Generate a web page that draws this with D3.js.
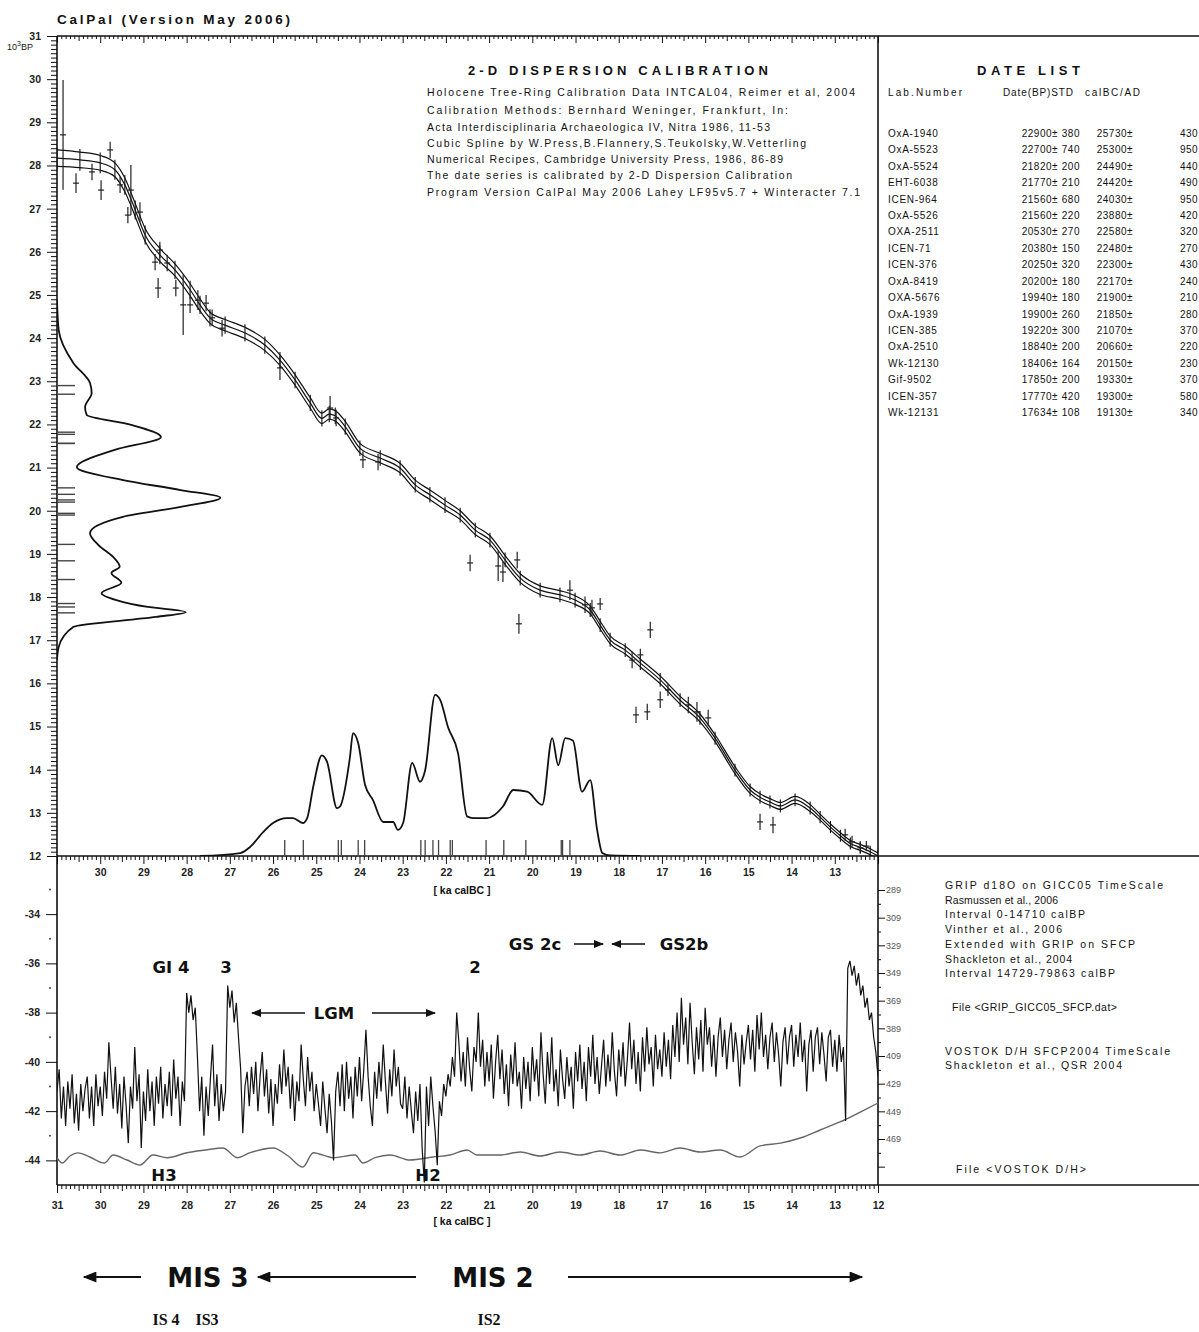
<!DOCTYPE html>
<html>
<head>
<meta charset="utf-8">
<script src="https://cdnjs.cloudflare.com/ajax/libs/d3/7.8.5/d3.min.js"></script>
<style>
body { margin: 0; background: #fff; }
svg { display: block; font-family: "Liberation Sans", Arial, sans-serif; }
.axis text { fill: #222; font-weight: bold; font-size: 10.5px; }
.axis line { stroke: #111; }
.small { font-size: 10.5px; fill: #111; }
.ann { font-family: "DejaVu Sans", sans-serif; font-weight: bold; fill: #111; }
</style>
</head>
<body>
<svg id="chart" width="1199" height="1332"></svg>
<script>
// ---------- data ----------
// calibration curve: [ka calBC, 10^3 BP, sigma]
let calCurve = [
  [31.00,28.17,0.19],[30.47,28.13,0.18],[30.00,28.06,0.17],[29.66,27.90,0.16],[29.43,27.55,0.16],
  [29.19,26.97,0.15],[28.96,26.39,0.15],[28.62,25.93,0.15],[28.27,25.58,0.14],[27.92,25.12,0.14],
  [27.69,24.77,0.14],[27.46,24.47,0.13],[27.11,24.30,0.13],[26.65,24.12,0.13],[26.19,23.84,0.13],
  [25.84,23.49,0.12],[25.49,23.03,0.12],[25.14,22.50,0.12],[24.87,22.14,0.12],[24.70,22.24,0.12],
  [24.56,22.20,0.12],[24.33,21.95,0.12],[23.99,21.45,0.11],[23.52,21.22,0.11],[23.06,20.99,0.11],
  [22.71,20.60,0.11],[22.37,20.37,0.11],[22.02,20.13,0.11],[21.67,19.90,0.10],[21.32,19.55,0.10],
  [20.98,19.32,0.10],[20.63,18.86,0.10],[20.28,18.44,0.10],[19.82,18.16,0.10],[19.36,18.05,0.10],
  [19.01,17.93,0.10],[18.66,17.70,0.09],[18.43,17.35,0.09],[18.20,17.01,0.09],[17.85,16.77,0.09],
  [17.50,16.47,0.09],[17.04,16.08,0.09],[16.58,15.61,0.09],[16.12,15.20,0.09],[15.77,14.73,0.08],
  [15.31,13.99,0.08],[14.96,13.53,0.08],[14.73,13.36,0.08],[14.50,13.25,0.08],[14.26,13.16,0.08],
  [13.92,13.30,0.08],[13.57,13.11,0.08],[13.34,12.90,0.07],[13.10,12.67,0.07],[12.87,12.47,0.07],
  [12.64,12.29,0.07],[12.41,12.20,0.07],[12.18,12.10,0.07],[12.00,12.00,0.07]
]

// reference data points: [ka calBC, 10^3 BP, error]
let refPoints = [
  [30.86,28.71,1.27],[30.56,27.59,0.23],[30.19,27.85,0.19],[29.98,27.43,0.23],[29.77,28.36,0.19],
  [29.54,27.55,0.19],[29.29,27.43,0.58],[29.36,26.85,0.19],[29.08,26.92,0.23],[28.73,25.76,0.19],
  [28.62,26.04,0.19],[28.66,25.16,0.23],[28.45,25.74,0.19],[28.25,25.16,0.19],[28.08,24.77,0.70],
  [27.92,24.77,0.19],[27.74,24.88,0.23],[27.55,24.81,0.19],[27.41,24.47,0.19],[27.18,24.23,0.19],
  [25.84,23.31,0.28],[24.68,22.38,0.28],[24.54,22.15,0.19],[23.92,21.18,0.19],[23.57,21.13,0.19],
  [21.44,18.79,0.19],[20.79,18.72,0.35],[20.68,18.58,0.23],[20.35,18.86,0.19],[20.31,17.38,0.23],
  [19.13,18.16,0.23],[18.78,17.82,0.19],[18.62,17.75,0.19],[18.43,17.84,0.14],[17.69,16.54,0.19],
  [17.50,16.66,0.14],[17.27,17.24,0.19],[17.60,15.27,0.19],[17.34,15.34,0.19],[17.04,15.62,0.19],
  [16.86,15.85,0.14],[16.39,15.50,0.19],[16.19,15.34,0.23],[15.93,15.20,0.19],[14.73,12.79,0.19],
  [14.43,12.72,0.19],[12.76,12.49,0.14],[12.60,12.33,0.14],[12.41,12.19,0.14],[12.27,12.23,0.12]
]

// summed 14C probability (left): [10^3 BP, density]
let bpDensity = [
  [24.88,0],[24.19,0.01],[23.42,0.10],[22.96,0.20],[22.73,0.21],[22.40,0.17],[22.22,0.18],
  [21.99,0.45],[21.71,0.63],[21.41,0.35],[21.01,0.12],[20.71,0.40],[20.48,0.75],[20.30,0.99],
  [20.09,0.75],[19.86,0.40],[19.48,0.20],[19.21,0.25],[18.93,0.34],[18.70,0.38],[18.56,0.33],
  [18.33,0.39],[18.09,0.27],[17.93,0.36],[17.77,0.55],[17.65,0.78],[17.54,0.60],[17.31,0.10],
  [16.84,0.01],[16.54,0]
]

// summed calendric probability (bottom): [ka calBC, density]
let calDensity = [
  [27.69,0],[26.76,0.018],[26.53,0.055],[26.23,0.145],[26.00,0.20],[25.68,0.23],[25.54,0.23],
  [25.31,0.20],[25.21,0.23],[25.07,0.42],[24.87,0.61],[24.75,0.57],[24.52,0.29],[24.45,0.30],
  [24.22,0.60],[24.15,0.745],[24.03,0.685],[23.87,0.43],[23.69,0.34],[23.45,0.206],[23.22,0.206],
  [23.11,0.158],[22.99,0.20],[22.78,0.564],[22.60,0.45],[22.48,0.52],[22.25,0.976],[22.13,0.945],
  [21.95,0.78],[21.72,0.625],[21.51,0.24],[21.37,0.23],[21.05,0.23],[20.68,0.30],[20.44,0.40],
  [20.12,0.39],[19.77,0.31],[19.54,0.715],[19.40,0.55],[19.24,0.715],[19.06,0.70],[18.85,0.39],
  [18.66,0.46],[18.50,0.158],[18.38,0.018],[18.20,0.003],[17.50,0]
]

// date list
let labNumbers = ["OxA-1940","OxA-5523","OxA-5524","EHT-6038","ICEN-964","OxA-5526","OXA-2511","ICEN-71","ICEN-376",
  "OxA-8419","OXA-5676","OxA-1939","ICEN-385","OxA-2510","Wk-12130","Gif-9502","ICEN-357","Wk-12131"]
let bpDates = [22900,22700,21820,21770,21560,21560,20530,20380,20250,20200,19940,19900,19220,18840,18406,17850,17770,17634]
let bpStd = [380,740,200,210,680,220,270,150,320,180,180,260,300,200,164,200,420,108]
let calDates = [25730,25300,24490,24420,24030,23880,22580,22480,22300,22170,21900,21850,21070,20660,20150,19330,19300,19130]
let calStd = [430,950,440,490,950,420,320,270,430,240,210,280,370,220,230,370,580,340]

// GRIP d18O: [ka calBC, permil]
let gripD18O = [
  [31.00,-41.2],[30.95,-40.3],[30.90,-42.3],[30.85,-41.0],[30.80,-42.6],[30.75,-40.8],[30.70,-41.9],[30.65,-40.5],[30.60,-42.5],[30.55,-41.3],
  [30.50,-42.8],[30.45,-40.9],[30.40,-42.0],[30.35,-41.1],[30.30,-40.6],[30.25,-42.3],[30.20,-41.0],[30.15,-42.6],[30.10,-40.5],[30.05,-41.8],
  [30.00,-41.0],[29.95,-42.2],[29.90,-40.4],[29.85,-41.5],[29.80,-39.2],[29.75,-40.6],[29.70,-41.9],[29.65,-40.2],[29.60,-42.1],[29.55,-40.9],
  [29.50,-42.7],[29.45,-40.6],[29.40,-41.8],[29.35,-43.3],[29.30,-41.0],[29.25,-41.9],[29.20,-39.4],[29.15,-41.6],[29.10,-40.5],[29.05,-43.5],
  [29.00,-41.2],[28.95,-42.4],[28.90,-40.3],[28.85,-42.0],[28.80,-40.8],[28.75,-42.6],[28.70,-40.6],[28.65,-41.7],[28.60,-40.2],[28.55,-42.3],
  [28.50,-40.9],[28.45,-41.8],[28.40,-40.4],[28.35,-42.2],[28.30,-39.9],[28.25,-41.5],[28.20,-40.6],[28.15,-42.6],[28.10,-40.8],[28.05,-41.6],
  [28.00,-37.2],[27.95,-38.0],[27.90,-37.3],[27.85,-38.3],[27.80,-37.8],[27.75,-39.8],[27.70,-42.0],[27.65,-40.6],[27.60,-43.0],[27.55,-41.0],
  [27.50,-42.2],[27.45,-40.7],[27.40,-39.3],[27.35,-41.8],[27.30,-40.5],[27.25,-42.4],[27.20,-40.9],[27.15,-42.0],[27.10,-41.2],[27.05,-36.9],
  [27.00,-37.8],[26.95,-37.1],[26.90,-38.4],[26.85,-37.6],[26.80,-39.0],[26.75,-40.3],[26.70,-42.9],[26.65,-41.0],[26.60,-40.4],[26.55,-41.8],
  [26.50,-40.2],[26.45,-41.3],[26.40,-40.0],[26.35,-42.0],[26.30,-40.6],[26.25,-39.6],[26.20,-41.4],[26.15,-40.3],[26.10,-42.1],[26.05,-40.7],
  [26.00,-42.6],[25.95,-40.9],[25.90,-41.7],[25.85,-40.1],[25.80,-41.3],[25.75,-39.5],[25.70,-41.0],[25.65,-40.2],[25.60,-41.9],[25.55,-40.5],
  [25.50,-42.4],[25.45,-40.8],[25.40,-41.6],[25.35,-39.3],[25.30,-40.7],[25.25,-41.8],[25.20,-39.8],[25.15,-41.2],[25.10,-40.4],[25.05,-42.0],
  [25.00,-40.9],[24.95,-41.7],[24.90,-42.6],[24.85,-40.8],[24.80,-41.9],[24.75,-42.9],[24.70,-41.3],[24.65,-42.4],[24.60,-44.0],[24.55,-41.2],
  [24.50,-40.4],[24.45,-41.8],[24.40,-40.1],[24.35,-42.0],[24.30,-40.0],[24.25,-41.5],[24.20,-40.6],[24.15,-42.3],[24.10,-40.2],[24.05,-41.4],
  [24.00,-39.8],[23.95,-41.6],[23.90,-40.3],[23.85,-38.7],[23.80,-40.6],[23.75,-41.8],[23.70,-42.6],[23.65,-40.4],[23.60,-41.5],[23.55,-40.0],
  [23.50,-41.2],[23.45,-39.3],[23.40,-40.8],[23.35,-42.1],[23.30,-40.3],[23.25,-41.4],[23.20,-39.5],[23.15,-41.0],[23.10,-40.2],[23.05,-41.7],
  [23.00,-41.9],[22.95,-40.6],[22.90,-42.3],[22.85,-41.0],[22.80,-42.0],[22.75,-42.9],[22.70,-41.2],[22.65,-42.4],[22.60,-40.9],[22.55,-43.5],
  [22.50,-44.9],[22.45,-41.0],[22.40,-42.6],[22.35,-40.6],[22.30,-41.8],[22.25,-42.8],[22.20,-44.2],[22.15,-41.6],[22.10,-42.2],[22.05,-40.9],
  [22.00,-41.4],[21.95,-40.5],[21.90,-41.0],[21.85,-39.8],[21.80,-40.6],[21.75,-38.0],[21.70,-39.2],[21.65,-40.8],[21.60,-39.6],[21.55,-41.0],
  [21.50,-39.0],[21.45,-40.3],[21.40,-41.2],[21.35,-39.4],[21.30,-40.0],[21.25,-38.0],[21.20,-40.2],[21.15,-39.1],[21.10,-41.0],[21.05,-39.6],
  [21.00,-40.8],[20.95,-39.3],[20.90,-41.5],[20.85,-40.0],[20.80,-38.9],[20.75,-40.7],[20.70,-39.5],[20.65,-41.3],[20.60,-40.1],[20.55,-41.8],
  [20.50,-39.7],[20.45,-40.9],[20.40,-39.2],[20.35,-41.0],[20.30,-40.4],[20.25,-41.9],[20.20,-39.8],[20.15,-41.1],[20.10,-40.0],[20.05,-41.6],
  [20.00,-39.4],[19.95,-40.8],[19.90,-39.9],[19.85,-41.4],[19.80,-38.8],[19.75,-40.5],[19.70,-41.7],[19.65,-39.6],[19.60,-40.9],[19.55,-39.0],
  [19.50,-41.2],[19.45,-40.3],[19.40,-41.8],[19.35,-39.5],[19.30,-40.7],[19.25,-41.5],[19.20,-39.8],[19.15,-41.0],[19.10,-40.2],[19.05,-41.9],
  [19.00,-39.6],[18.95,-40.8],[18.90,-39.3],[18.85,-41.1],[18.80,-40.0],[18.75,-41.6],[18.70,-39.4],[18.65,-40.6],[18.60,-38.9],[18.55,-40.9],
  [18.50,-39.8],[18.45,-41.3],[18.40,-40.2],[18.35,-39.1],[18.30,-41.0],[18.25,-39.7],[18.20,-40.8],[18.15,-38.8],[18.10,-40.4],[18.05,-41.4],
  [18.00,-39.5],[17.95,-40.6],[17.90,-39.2],[17.85,-41.0],[17.80,-39.9],[17.75,-38.4],[17.70,-40.3],[17.65,-39.1],[17.60,-40.9],[17.55,-39.6],
  [17.50,-41.2],[17.45,-39.0],[17.40,-40.4],[17.35,-38.6],[17.30,-40.1],[17.25,-39.4],[17.20,-41.0],[17.15,-38.9],[17.10,-40.3],[17.05,-39.5],
  [17.00,-40.6],[16.95,-38.8],[16.90,-40.2],[16.85,-39.1],[16.80,-40.7],[16.75,-38.5],[16.70,-39.8],[16.65,-38.0],[16.60,-40.0],[16.55,-37.4],
  [16.50,-39.3],[16.45,-38.2],[16.40,-40.1],[16.35,-37.6],[16.30,-39.2],[16.25,-40.5],[16.20,-38.6],[16.15,-39.9],[16.10,-38.3],[16.05,-40.4],
  [16.00,-37.8],[15.95,-39.3],[15.90,-38.6],[15.85,-40.2],[15.80,-38.9],[15.75,-40.6],[15.70,-39.0],[15.65,-38.2],[15.60,-39.8],[15.55,-38.7],
  [15.50,-40.3],[15.45,-39.1],[15.40,-38.4],[15.35,-40.0],[15.30,-38.8],[15.25,-39.6],[15.20,-41.0],[15.15,-38.9],[15.10,-40.1],[15.05,-39.2],
  [15.00,-38.5],[14.95,-39.9],[14.90,-38.7],[14.85,-40.4],[14.80,-38.1],[14.75,-39.5],[14.70,-38.0],[14.65,-39.8],[14.60,-38.9],[14.55,-40.3],
  [14.50,-39.0],[14.45,-38.4],[14.40,-40.0],[14.35,-38.8],[14.30,-39.7],[14.25,-41.0],[14.20,-39.2],[14.15,-38.6],[14.10,-40.1],[14.05,-39.0],
  [14.00,-38.5],[13.95,-40.2],[13.90,-38.9],[13.85,-39.8],[13.80,-38.4],[13.75,-40.0],[13.70,-39.1],[13.65,-41.2],[13.60,-39.3],[13.55,-38.7],
  [13.50,-40.4],[13.45,-39.0],[13.40,-38.6],[13.35,-40.1],[13.30,-38.8],[13.25,-39.7],[13.20,-40.8],[13.15,-39.0],[13.10,-38.7],[13.05,-40.2],
  [13.00,-39.1],[12.95,-40.4],[12.90,-38.9],[12.85,-40.0],[12.80,-39.4],[12.75,-42.4],[12.70,-36.2],[12.65,-35.9],[12.60,-36.5],[12.55,-36.1],
  [12.50,-36.9],[12.45,-36.4],[12.40,-37.3],[12.35,-36.9],[12.30,-37.8],[12.25,-37.4],[12.20,-38.3],[12.15,-38.0],[12.10,-39.0],[12.05,-39.6],
  [12.00,-40.6]
]

// VOSTOK D/H on right-hand scale: [ka calBC, value]
let vostokDH = [
  [31.00,482.5],[30.88,486.4],[30.70,481.3],[30.51,479.0],[30.24,482.0],[29.91,486.4],[29.70,480.6],[29.38,484.2],
  [29.08,487.8],[28.78,480.6],[28.45,482.5],[27.99,478.9],[27.57,477.0],[27.16,475.5],[26.83,482.5],[26.53,478.9],
  [26.00,475.5],[25.65,481.3],[25.31,489.3],[25.07,478.9],[24.61,482.5],[24.10,480.6],[23.92,486.4],[23.64,482.5],
  [23.29,480.6],[22.83,484.2],[22.30,482.0],[21.90,480.6],[21.51,477.0],[21.28,480.6],[20.75,480.6],[20.28,478.4],
  [19.82,481.3],[19.36,478.4],[18.89,480.6],[18.43,477.7],[17.97,480.6],[17.50,477.0],[17.04,479.0],[16.58,475.5],
  [16.12,478.4],[15.65,477.0],[15.19,482.0],[14.73,474.0],[14.26,472.0],[13.80,468.3],[13.34,462.5],[12.88,456.7],
  [12.41,449.5],[12.00,443.0]
]

let headerLines = [
  ["Holocene Tree-Ring Calibration Data INTCAL04, Reimer et al, 2004", 428],
  ["Calibration Methods:  Bernhard Weninger, Frankfurt, In:", 361],
  ["Acta Interdisciplinaria Archaeologica IV, Nitra 1986, 11-53", 343],
  ["Cubic Spline by W.Press,B.Flannery,S.Teukolsky,W.Vetterling", 379],
  ["Numerical Recipes, Cambridge University Press, 1986, 86-89", 356],
  ["The date series is calibrated by 2-D Dispersion Calibration", 365],
  ["Program Version CalPal May 2006 Lahey LF95v5.7 + Winteracter 7.1", 433]
]
let sourceLines = [
  ["GRIP d18O on GICC05 TimeScale", 945, 889, 218],
  ["Rasmussen et al., 2006", 945, 904, 113],
  ["Interval 0-14710 calBP", 945, 918, 140],
  ["Vinther et al., 2006", 945, 933, 117],
  ["Extended with GRIP on SFCP", 945, 948, 190],
  ["Shackleton et al., 2004", 945, 963, 127],
  ["Interval 14729-79863 calBP", 945, 977, 170],
  ["File <GRIP_GICC05_SFCP.dat>", 952, 1011, 165],
  ["VOSTOK D/H SFCP2004 TimeScale", 945, 1055, 225],
  ["Shackleton et al., QSR 2004", 945, 1069, 177],
  ["File <VOSTOK D/H>", 956, 1173, 130]
]

// ---------- scales ----------
let svg = d3.select('#chart')
let x = d3.scaleLinear().domain([31, 12]).range([57, 878])
let yUp = d3.scaleLinear().domain([12, 31]).range([856, 36])
let yLo = d3.scaleLinear().domain([-45, -31.64]).range([1185, 856])
let yVos = d3.scaleLinear().domain([289, 469]).range([890, 1139])
let dX = d3.scaleLinear().domain([0, 1]).range([57, 222])
let dY = d3.scaleLinear().domain([0, 1]).range([856, 691])

svg.append('rect').attr('width', 1199).attr('height', 1332).attr('fill', '#fff')

let defs = svg.append('defs')
defs.append('clipPath').attr('id', 'clipUp').append('rect')
    .attr('x', 57).attr('y', 36).attr('width', 821).attr('height', 820)
defs.append('clipPath').attr('id', 'clipLo').append('rect')
    .attr('x', 57).attr('y', 856).attr('width', 821).attr('height', 329)
function marker(id, w, h) {
    defs.append('marker').attr('id', id)
        .attr('viewBox', '0 0 10 8').attr('refX', 9).attr('refY', 4)
        .attr('markerUnits', 'userSpaceOnUse')
        .attr('markerWidth', w).attr('markerHeight', h).attr('orient', 'auto')
        .append('path').attr('d', 'M0,0 L10,4 L0,8 Z').attr('fill', '#111')
}
marker('arrBig', 15, 11)
marker('arrSmall', 11, 8)

// ---------- axes / rulers ----------
let tenths = d3.range(120, 311).map(v => v / 10)
let minorT = tenths.filter(v => Math.round(v * 10) % 5 !== 0)
let halfT = tenths.filter(v => Math.round(v * 10) % 10 === 5)
let intT = d3.range(12, 32)

function ruler(gen, scale, vals, size, tr) {
    svg.append('g').attr('class', 'axis').attr('transform', tr)
        .call(gen(scale).tickValues(vals).tickSize(size).tickSizeOuter(0).tickFormat(''))
        .call(g => g.select('.domain').remove())
}
// top of upper plot (inside)
ruler(d3.axisBottom, x, minorT, 3, 'translate(0,36)')
ruler(d3.axisBottom, x, halfT, 5, 'translate(0,36)')
ruler(d3.axisBottom, x, intT, 7, 'translate(0,36)')
// left of upper plot
ruler(d3.axisLeft, yUp, tenths.filter(v => Math.round(v * 10) % 10 !== 0), 6, 'translate(57,0)')
svg.append('g').attr('class', 'axis').attr('transform', 'translate(57,0)')
    .call(d3.axisLeft(yUp).tickValues(intT).tickSize(10).tickPadding(6).tickFormat(d => d))
    .call(g => g.select('.domain').remove())
// bottom of upper plot
ruler(d3.axisBottom, x, minorT, 4, 'translate(0,856)')
ruler(d3.axisBottom, x, halfT, 6, 'translate(0,856)')
svg.append('g').attr('class', 'axis').attr('transform', 'translate(0,856)')
    .call(d3.axisBottom(x).tickValues(intT).tickSize(8).tickPadding(5)
        .tickFormat(d => (d > 12 && d < 31) ? d : ''))
    .call(g => g.select('.domain').remove())
// bottom of lower plot
ruler(d3.axisBottom, x, minorT, 4, 'translate(0,1185)')
ruler(d3.axisBottom, x, halfT, 6, 'translate(0,1185)')
svg.append('g').attr('class', 'axis').attr('transform', 'translate(0,1185)')
    .call(d3.axisBottom(x).tickValues(intT).tickSize(8).tickPadding(9).tickFormat(d => d))
    .call(g => g.select('.domain').remove())
// left of lower plot
svg.append('g').attr('class', 'axis').attr('transform', 'translate(57,0)')
    .call(d3.axisLeft(yLo).tickValues([-44, -42, -40, -38, -36, -34]).tickSize(11).tickPadding(6).tickFormat(d => String(d)))
    .call(g => g.select('.domain').remove())
svg.append('g').selectAll('circle').data([-43, -41, -39, -37, -35, -33]).join('circle')
    .attr('cx', 50).attr('cy', d => yLo(d)).attr('r', 0.9).attr('fill', '#333')
// right (VOSTOK) axis of lower plot
ruler(d3.axisRight, yVos, d3.range(299, 489, 20), 3, 'translate(878,0)')
svg.append('g').attr('class', 'axis').attr('transform', 'translate(878,0)')
    .call(d3.axisRight(yVos).tickValues(d3.range(289, 490, 20)).tickSize(7).tickPadding(1)
        .tickFormat(d => d <= 469 ? d : ''))
    .call(g => g.select('.domain').remove())
    .call(g => g.selectAll('text').style('font-size', '9px').style('font-weight', 'normal').style('fill', '#555'))

// frames
let frame = [[57, 36, 1199, 36], [57, 856, 1199, 856], [57, 1185, 1199, 1185],
             [57, 36, 57, 1185], [878, 36, 878, 1185]]
svg.append('g').selectAll('line').data(frame).join('line')
    .attr('x1', d => d[0]).attr('y1', d => d[1]).attr('x2', d => d[2]).attr('y2', d => d[3])
    .attr('stroke', '#111').attr('stroke-width', 1.6)

// ---------- upper plot ----------
let up = svg.append('g').attr('clip-path', 'url(#clipUp)')
let calLine = d3.line().x(d => x(d[0])).y(d => yUp(d[1])).curve(d3.curveMonotoneX)
;[0, 1, -1].forEach(s => {
    up.append('path').datum(calCurve.map(d => [d[0], d[1] + s * d[2]]))
        .attr('d', calLine).attr('fill', 'none').attr('stroke', '#111').attr('stroke-width', 1.2)
})
up.append('g').selectAll('line').data(calCurve).join('line')
    .attr('x1', d => x(d[0])).attr('x2', d => x(d[0]))
    .attr('y1', d => yUp(d[1] - d[2] - 0.07)).attr('y2', d => yUp(d[1] + d[2] + 0.07))
    .attr('stroke', '#111').attr('stroke-width', 1.1)

let pts = up.append('g').attr('stroke', '#222').attr('stroke-width', 1.2)
pts.selectAll('.ev').data(refPoints).join('line').attr('class', 'ev')
    .attr('x1', d => x(d[0])).attr('x2', d => x(d[0]))
    .attr('y1', d => yUp(d[1] - d[2])).attr('y2', d => yUp(d[1] + d[2]))
pts.selectAll('.eh').data(refPoints).join('line').attr('class', 'eh')
    .attr('x1', d => x(d[0]) - 3).attr('x2', d => x(d[0]) + 3)
    .attr('y1', d => yUp(d[1])).attr('y2', d => yUp(d[1]))

up.append('path').datum(bpDensity)
    .attr('d', d3.line().x(d => dX(d[1])).y(d => yUp(d[0])).curve(d3.curveMonotoneY))
    .attr('fill', 'none').attr('stroke', '#111').attr('stroke-width', 1.8)
up.append('g').selectAll('line').data(bpDates).join('line')
    .attr('x1', 57).attr('x2', 75).attr('y1', d => yUp(d / 1000)).attr('y2', d => yUp(d / 1000))
    .attr('stroke', '#444').attr('stroke-width', 1.4)

up.append('path').datum(calDensity)
    .attr('d', d3.line().x(d => x(d[0])).y(d => dY(d[1])).curve(d3.curveMonotoneX))
    .attr('fill', 'none').attr('stroke', '#111').attr('stroke-width', 1.8)
up.append('g').selectAll('line').data(calDates).join('line')
    .attr('x1', d => x(d / 1000)).attr('x2', d => x(d / 1000)).attr('y1', 856).attr('y2', 840)
    .attr('stroke', '#444').attr('stroke-width', 1.3)

// ---------- lower plot ----------
let lo = svg.append('g').attr('clip-path', 'url(#clipLo)')
lo.append('path').datum(vostokDH)
    .attr('d', d3.line().x(d => x(d[0])).y(d => yVos(d[1])).curve(d3.curveMonotoneX))
    .attr('fill', 'none').attr('stroke', '#666').attr('stroke-width', 1.4)
lo.append('path').datum(gripD18O)
    .attr('d', d3.line().x(d => x(d[0])).y(d => yLo(d[1])))
    .attr('fill', 'none').attr('stroke', '#111').attr('stroke-width', 1.2)

// ---------- texts ----------
svg.append('text').attr('x', 57).attr('y', 24).attr('textLength', 233).attr('lengthAdjust', 'spacing')
    .style('font-size', '13.5px').style('font-weight', 'bold').attr('fill', '#111')
    .text('CalPal (Version May 2006)')
let bp = svg.append('text').attr('x', 7).attr('y', 50).style('font-size', '9px').attr('fill', '#222')
bp.append('tspan').text('10')
bp.append('tspan').attr('dy', -4).style('font-size', '7px').text('3')
bp.append('tspan').attr('dy', 4).text('BP')

svg.append('text').attr('x', 468).attr('y', 75).attr('textLength', 300).attr('lengthAdjust', 'spacing')
    .style('font-size', '13px').style('font-weight', 'bold').attr('fill', '#111')
    .text('2-D DISPERSION CALIBRATION')
svg.append('g').selectAll('text').data(headerLines).join('text').attr('class', 'small')
    .attr('x', 427).attr('y', (d, i) => [96, 114, 131, 147, 163, 179, 196][i])
    .attr('textLength', d => d[1]).attr('lengthAdjust', 'spacing')
    .style('font-size', '10.5px').text(d => d[0])

svg.append('text').attr('x', 977).attr('y', 75).attr('textLength', 103).attr('lengthAdjust', 'spacing')
    .style('font-size', '13px').style('font-weight', 'bold').attr('fill', '#111').text('DATE LIST')
let hdr = [['Lab.Number', 888, 74], ['Date(BP)STD', 1003, 70], ['calBC/AD', 1085, 55]]
svg.append('g').selectAll('text').data(hdr).join('text').attr('class', 'small')
    .attr('x', d => d[1]).attr('y', 96).attr('textLength', d => d[2]).attr('lengthAdjust', 'spacing')
    .style('font-size', '10px').text(d => d[0])

let rowY = i => 137 + i * 16.41
let rows = svg.append('g').attr('class', 'small').style('font-size', '10px')
rows.selectAll('.lab').data(labNumbers).join('text').attr('class', 'lab')
    .attr('x', 888).attr('y', (d, i) => rowY(i)).style('letter-spacing', '0.7px').text(d => d)
rows.selectAll('.bp').data(bpDates).join('text').attr('class', 'bp')
    .attr('x', 1058).attr('y', (d, i) => rowY(i)).attr('text-anchor', 'end').style('letter-spacing', '0.5px').text(d => d + '±')
rows.selectAll('.bps').data(bpStd).join('text').attr('class', 'bps')
    .attr('x', 1080).attr('y', (d, i) => rowY(i)).attr('text-anchor', 'end').style('letter-spacing', '0.5px').text(d => d)
rows.selectAll('.cal').data(calDates).join('text').attr('class', 'cal')
    .attr('x', 1133).attr('y', (d, i) => rowY(i)).attr('text-anchor', 'end').style('letter-spacing', '0.5px').text(d => d + '±')
rows.selectAll('.cals').data(calStd).join('text').attr('class', 'cals')
    .attr('x', 1180).attr('y', (d, i) => rowY(i)).style('letter-spacing', '0.5px').text(d => d)

svg.append('g').selectAll('text').data(sourceLines).join('text').attr('class', 'small')
    .attr('x', d => d[1]).attr('y', d => d[2]).attr('textLength', d => d[3]).attr('lengthAdjust', 'spacing')
    .style('font-size', '10.5px').text(d => d[0])

svg.selectAll('.unit').data([894, 1225]).join('text').attr('class', 'small unit')
    .attr('x', 462).attr('y', d => d).attr('text-anchor', 'middle').style('font-size', '10.5px')
    .style('font-weight', 'bold').text('[ ka calBC ]')

// annotations in lower plot
let ann = [['GI 4', 171, 973], ['3', 226, 973], ['2', 475, 973], ['LGM', 334, 1019],
           ['GS 2c', 535, 950], ['GS2b', 684, 950], ['H3', 164, 1181], ['H2', 428, 1181]]
svg.append('g').selectAll('text').data(ann).join('text').attr('class', 'ann')
    .attr('x', d => d[1]).attr('y', d => d[2]).attr('text-anchor', 'middle')
    .style('font-size', '16.5px').text(d => d[0])
let smallArrows = [[305, 1013, 252, 1013], [372, 1013, 435, 1013], [574, 944, 603, 944], [645, 944, 612, 944]]
svg.append('g').selectAll('line').data(smallArrows).join('line')
    .attr('x1', d => d[0]).attr('y1', d => d[1]).attr('x2', d => d[2]).attr('y2', d => d[3])
    .attr('stroke', '#111').attr('stroke-width', 1.5).attr('marker-end', 'url(#arrSmall)')

// MIS / IS labels
let mis = [['MIS 3', 208], ['MIS 2', 493]]
svg.append('g').selectAll('text').data(mis).join('text').attr('class', 'ann')
    .attr('x', d => d[1]).attr('y', 1287).attr('text-anchor', 'middle')
    .style('font-size', '26px').text(d => d[0])
let bigArrows = [[141, 1277, 84, 1277], [416, 1277, 258, 1277], [568, 1277, 862, 1277]]
svg.append('g').selectAll('line').data(bigArrows).join('line')
    .attr('x1', d => d[0]).attr('y1', d => d[1]).attr('x2', d => d[2]).attr('y2', d => d[3])
    .attr('stroke', '#111').attr('stroke-width', 2).attr('marker-end', 'url(#arrBig)')
let isLab = [['IS 4', 166], ['IS3', 207], ['IS2', 489]]
svg.append('g').selectAll('text').data(isLab).join('text')
    .attr('x', d => d[1]).attr('y', 1325).attr('text-anchor', 'middle')
    .style('font-family', '"Liberation Serif", serif').style('font-weight', 'bold')
    .style('font-size', '16px').attr('fill', '#111').text(d => d[0])
</script>
</body>
</html>
